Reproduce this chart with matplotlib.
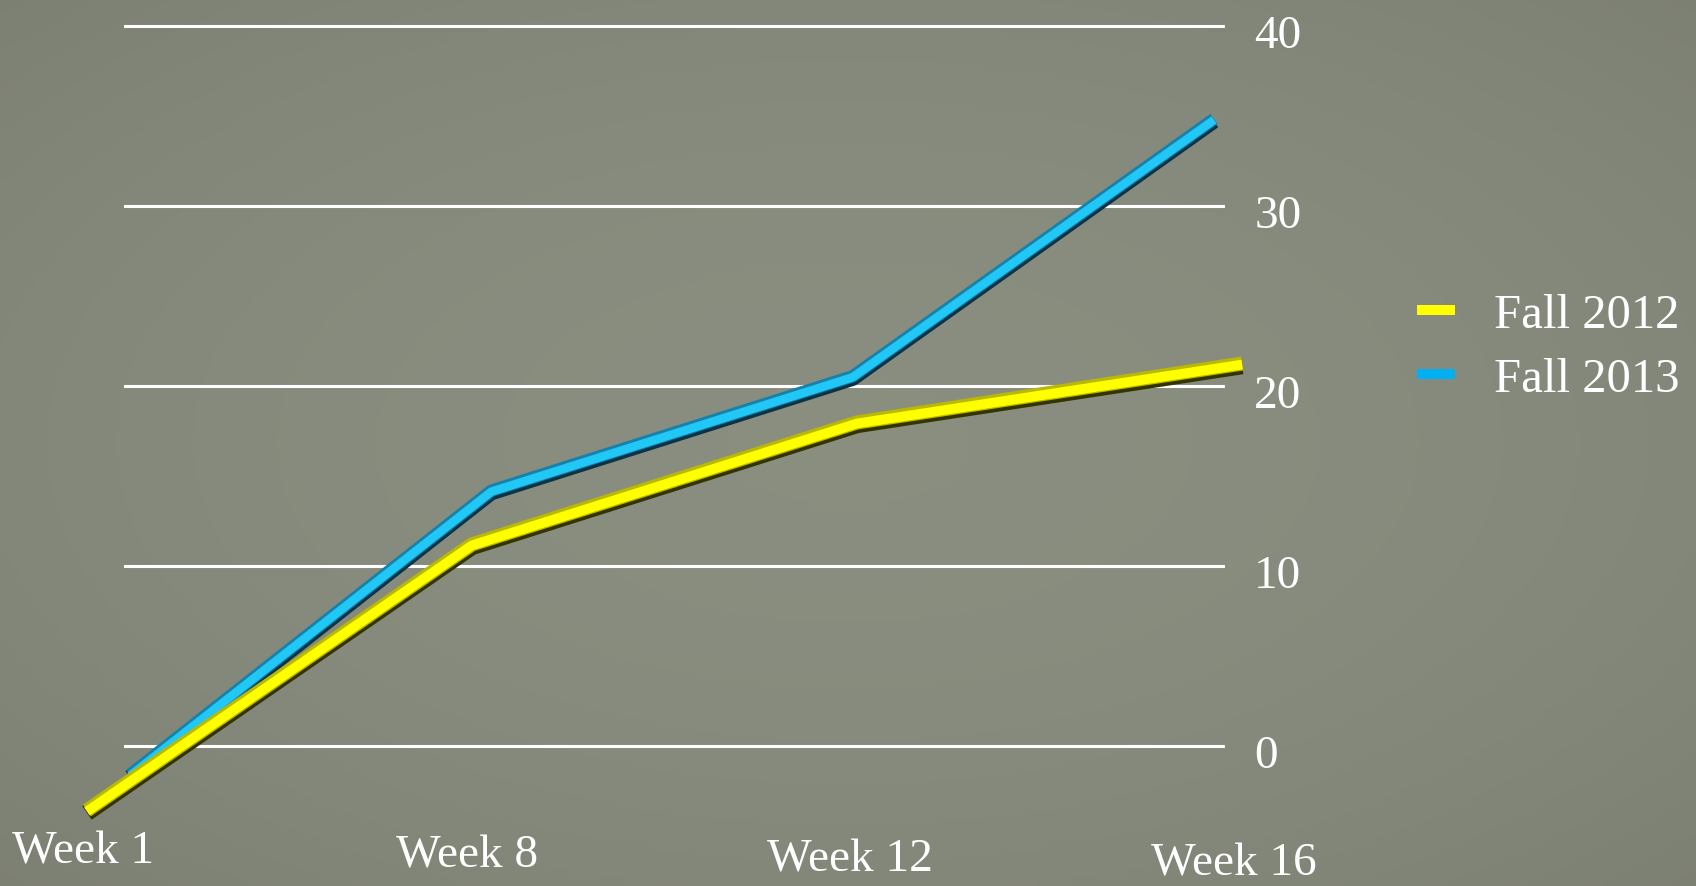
import numpy as np
import matplotlib
matplotlib.use("Agg")
import matplotlib.pyplot as plt
from matplotlib.transforms import Affine2D, ScaledTranslation
from matplotlib.lines import Line2D

# data
weeks = ["Week 1", "Week 8", "Week 12", "Week 16"]
fall_2012 = [0, 13.1, 19.1, 22.0]
fall_2013 = [0, 14.9, 20.9, 34.4]
y_ticks = [0, 10, 20, 30, 40]
series_names = ["Fall 2012", "Fall 2013"]

plt.rcParams["font.family"] = ["Liberation Serif", "DejaVu Serif"]

W, H = 1696, 887
fig = plt.figure(figsize=(W / 100, H / 100), dpi=100)

# grey backdrop, slightly darker at the edges
bg = fig.add_axes([0, 0, 1, 1], zorder=-10)
yy, xx = np.mgrid[0:1:200j, 0:1:400j]
r = ((xx - 0.5) / 0.5) ** 2 + ((yy - 0.5) / 0.5) ** 2
shade = 1.03 - 0.05 * r
base = np.array([134, 138, 124]) / 255
bg.imshow(np.clip(shade[..., None] * base, 0, 1), aspect="auto", extent=[0, 1, 0, 1])
bg.axis("off")

# back wall of the chart
ax = fig.add_axes([124 / W, (H - 764.5) / H, 1101 / W, 756 / H])
ax.set_facecolor("none")
ax.set_xlim(-0.1246, 3.1023)
ax.set_ylim(-1, 41)
ax.set_autoscale_on(False)
for sp in ax.spines.values():
    sp.set_visible(False)
ax.set_xticks([])
ax.set_yticks(y_ticks)
ax.yaxis.tick_right()
ax.tick_params(axis="y", length=0, pad=21, labelsize=34, labelcolor="white")
ax.grid(axis="y", color="white", lw=2.2)
ax.set_axisbelow(True)
for lbl in ax.get_yticklabels():
    lbl.set_transform(lbl.get_transform() + ScaledTranslation(0, -0.05, fig.dpi_scale_trans))

# fake perspective: things nearer the viewer get scaled about a vanishing point
CX, CY = 785.5, 655.0


def depth(s, dx=0.0, dy=0.0, rot=0.0):
    return ax.transData + Affine2D().translate(-CX, -CY).scale(s).rotate_deg(rot).translate(CX + dx, CY + dy)


def tube(values, s, dark, edge, bright, lw, z):
    x = np.arange(len(values))
    kw = dict(solid_capstyle="butt", solid_joinstyle="round", clip_on=False)
    ax.plot(x, values, transform=depth(s, 0, -1.2), color=dark, lw=lw, zorder=z, **kw)
    ax.plot(x, values, transform=depth(s, 0, 1.2), color=edge, lw=lw * 0.85, zorder=z + 0.1, **kw)
    ax.plot(x, values, transform=depth(s, 0, 0.2), color=bright, lw=lw * 0.58, zorder=z + 0.2, **kw)


tube(fall_2013, 1.059, "#0a3346", "#1582ad", "#22c8f5", 10.5, 3)
tube(fall_2012, 1.1286, "#343400", "#b9b900", "#ffff00", 12.0, 4)

for i, w in enumerate(weeks):
    ax.text(i, -3.0, w, transform=depth(1.124, rot=-0.6), ha="center", va="baseline",
            fontsize=34, color="white", clip_on=False)

handles = [Line2D([], [], color="#ffff00", lw=7.2, solid_capstyle="butt"),
           Line2D([], [], color="#00b0f0", lw=7.2, solid_capstyle="butt")]
fig.legend(handles, series_names, loc="center left", bbox_to_anchor=(1417 / W, 539 / H),
           frameon=False, borderpad=0, borderaxespad=0, handlelength=0.78,
           handletextpad=0.8, labelspacing=0.4, fontsize=35, labelcolor="white")

fig.savefig("out.png", dpi=100)
